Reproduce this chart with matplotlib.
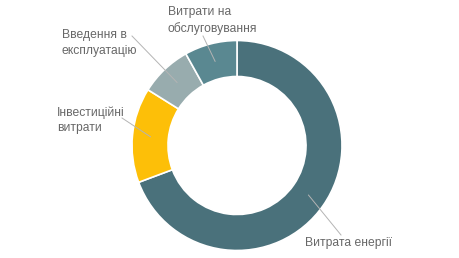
import numpy as np
import matplotlib.pyplot as plt

plt.rcParams['font.family'] = ['Liberation Sans', 'DejaVu Sans']

# data (clockwise from 12 o'clock)
labels = ["Витрата енергії", "Інвестиційні\nвитрати", "Введення в\nексплуатацію", "Витрати на\nобслуговування"]
shares = [69.3, 14.6, 8.0, 8.1]
colors = ["#4a717b", "#fdbf08", "#98acae", "#5a8891"]

# label text position (top-left, px) and leader start (px)
text_pos = [(305, 237), (57, 106), (62, 29), (168, 6)]
line_start = [(341, 235), (122, 118), (132, 36), (203, 36)]

W, H = 460, 258
cx, cy = 237, 145.5
r_out, ring = 105, 36

fig = plt.figure(figsize=(4.6, 2.58), dpi=100)
ax = fig.add_axes([0, 0, 1, 1])

wedges, _ = ax.pie(shares, colors=colors, startangle=90, counterclock=False,
                   center=(cx, H - cy), radius=r_out,
                   wedgeprops=dict(width=ring, edgecolor='white', linewidth=1.2))

for w, lab, tp, ls in zip(wedges, labels, text_pos, line_start):
    ang = np.deg2rad((w.theta1 + w.theta2) / 2)
    rm = r_out - ring / 2
    ax_pt = (cx + rm * np.cos(ang), H - cy + rm * np.sin(ang))
    ax.plot([ls[0], ax_pt[0]], [H - ls[1], ax_pt[1]], color='#b4b4b4', lw=0.7)
    ax.text(tp[0], H - tp[1], lab, ha='left', va='top', fontsize=8.7,
            color='#686868', linespacing=1.4)

ax.set_xlim(0, W)
ax.set_ylim(0, H)
ax.set_aspect('equal')
ax.axis('off')

fig.savefig('out.png', dpi=100)
